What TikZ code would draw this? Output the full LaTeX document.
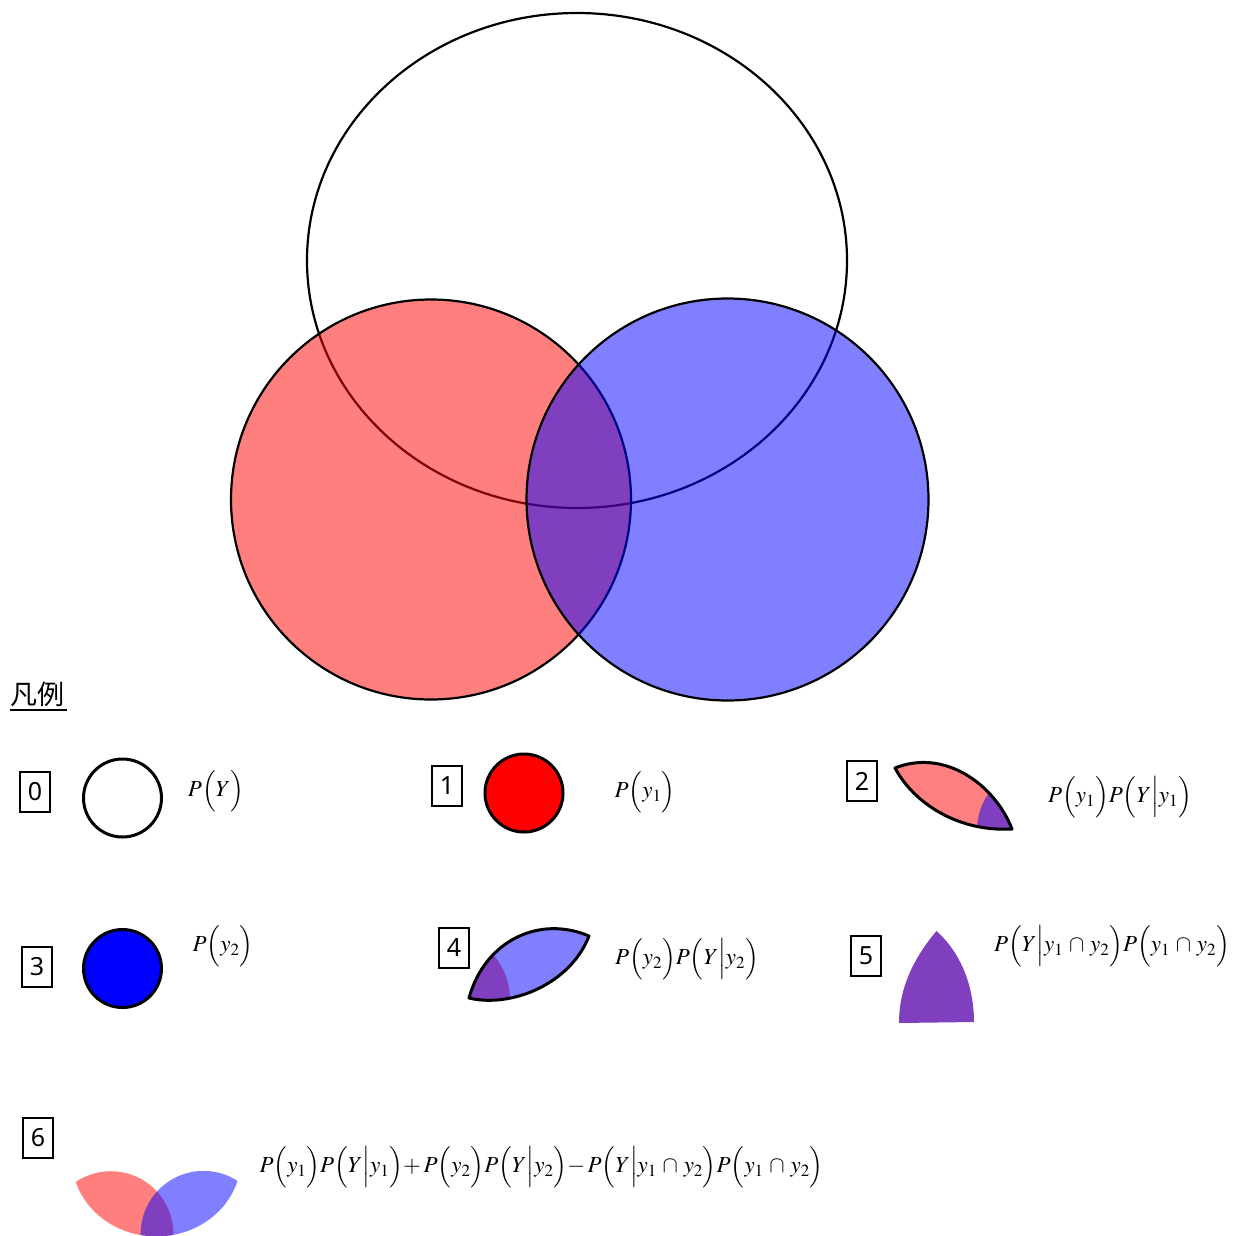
\documentclass[tikz,border=0pt]{standalone}
\usepackage{mathptmx}
\usepackage[no-math]{fontspec}
\newfontfamily\numfont{Noto Sans}
\newfontfamily\cjkfont{Noto Sans CJK JP}
\definecolor{vpurple}{RGB}{127,63,191}
\definecolor{lred}{RGB}{255,128,128}
\definecolor{lblue}{RGB}{128,128,255}
\tikzset{
  vline/.style={line width=2.2pt, draw=black},
  lline/.style={line width=3pt, draw=black, line join=round},
  numbox/.style={draw, line width=1.5pt, minimum width=30pt, minimum height=40pt, inner sep=0pt,
                 font=\numfont\fontsize{25}{25}\selectfont},
  formula/.style={inner sep=0pt, font=\fontsize{23}{28}\selectfont},
}
\newcommand{\capsp}{\mathbin{\,\cap\,}}
\newcommand{\lp}{\mathopen{\Big(}}
\newcommand{\rp}{\mathclose{\Big)}}
\newcommand{\gv}{\mathord{\Big|}}
\begin{document}
\begin{tikzpicture}[x=1pt,y=-1pt]
\useasboundingbox (0,0) rectangle (1237,1235);

% ---------- main Venn diagram ----------
\draw[vline] (577,260.5) ellipse [x radius=270, y radius=247.5];
\draw[vline, fill=red, fill opacity=0.5] (431,499.5) circle [radius=200];
\draw[vline, fill=blue, fill opacity=0.5] (727.5,499.5) circle [radius=201];

% ---------- legend title ----------
\node[inner sep=0pt, anchor=west, font=\cjkfont\fontsize{27}{27}\selectfont] (title) at (10,694) {凡例};
\draw[line width=2pt] (10,710) -- (67,710);

% ---------- item 0 ----------
\node[numbox] (n0) at (35,792) {0};
\draw[lline] (122.5,798) circle [radius=39];
\node[formula] (f0) at (216,791) {$P\lp Y\rp$};

% ---------- item 1 ----------
\node[numbox] (n1) at (447,786) {1};
\draw[lline, fill=red] (524,793) circle [radius=39];
\node[formula] (f1) at (645,792) {$P\lp y_1\rp$};

% ---------- item 2 ----------
\node[numbox] (n2) at (862,781) {2};
\fill[lred] (895,768) .. controls (945,748) and (995,785) .. (1012,829)
   .. controls (960,832) and (915,805) .. (895,768) -- cycle;
\begin{scope}
  \clip (895,768) .. controls (945,748) and (995,785) .. (1012,829)
     .. controls (960,832) and (915,805) .. (895,768) -- cycle;
  \fill[vpurple] (1040,830) circle [radius=63];
\end{scope}
\draw[lline] (895,768) .. controls (945,748) and (995,785) .. (1012,829)
   .. controls (960,832) and (915,805) .. (895,768) -- cycle;
\node[formula] (f2) at (1120,797) {$P\lp y_1\rp P\lp Y\gv y_1\rp$};

% ---------- item 3 ----------
\node[numbox] (n3) at (37,967) {3};
\draw[lline, fill=blue] (122.5,968.5) circle [radius=39];
\node[formula] (f3) at (223,946) {$P\lp y_2\rp$};

% ---------- item 4 ----------
\node[numbox] (n4) at (454,948) {4};
\fill[lblue] (469,998) .. controls (485,940) and (540,915) .. (589,936)
   .. controls (570,985) and (510,1008) .. (469,998) -- cycle;
\begin{scope}
  \clip (469,998) .. controls (485,940) and (540,915) .. (589,936)
     .. controls (570,985) and (510,1008) .. (469,998) -- cycle;
  \fill[vpurple] (440,1000) circle [radius=70];
\end{scope}
\draw[lline] (469,998) .. controls (485,940) and (540,915) .. (589,936)
   .. controls (570,985) and (510,1008) .. (469,998) -- cycle;
\node[formula] (f4) at (687,959) {$P\lp y_2\rp P\lp Y\gv y_2\rp$};

% ---------- item 5 ----------
\node[numbox] (n5) at (866,956) {5};
\fill[vpurple] (936.5,931) .. controls (912,960) and (899,990) .. (899,1023)
   -- (974,1022) .. controls (974,985) and (960,952) .. (936.5,931) -- cycle;
\node[formula] (f5) at (1112,946) {$P\lp Y\gv y_1\capsp y_2\rp P\lp y_1\capsp y_2\rp$};

% ---------- item 6 ----------
\node[numbox] (n6) at (38,1138) {6};
\begin{scope}[shift={(-23.9,1077.6)}, scale=0.3126]
  \clip (577,260.5) ellipse [x radius=270, y radius=247.5];
  \fill[red, fill opacity=0.5] (431,499.5) circle [radius=200];
  \fill[blue, fill opacity=0.5] (727.5,499.5) circle [radius=201];
\end{scope}
\node[formula] (f6) at (541.5,1167) {$P\lp y_1\rp P\lp Y\gv y_1\rp{+}\,P\lp y_2\rp P\lp Y\gv y_2\rp{-}\,P\lp Y\gv y_1\capsp y_2\rp P\lp y_1\capsp y_2\rp$};
\end{tikzpicture}
\end{document}
